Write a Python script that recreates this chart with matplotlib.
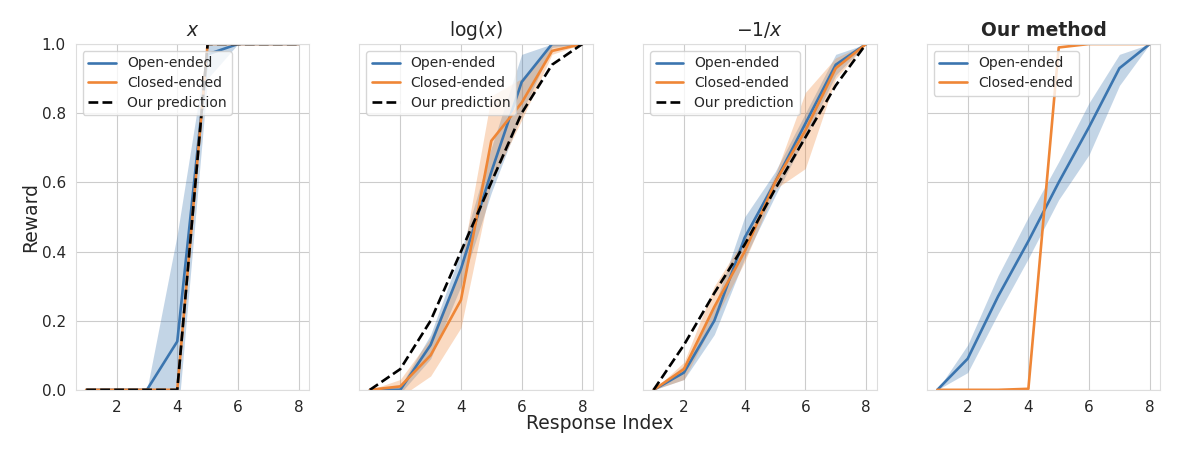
import numpy as np
import matplotlib
matplotlib.use("Agg")
import matplotlib.pyplot as plt
import seaborn as sns

sns.set_style("whitegrid")
plt.rcParams['font.family'] = ['DejaVu Sans']

idx = [1, 2, 3, 4, 5, 6, 7, 8]
titles = ["$x$", r"$\log(x)$", r"$-1/x$", "Our method"]

# panel 1: x
open_x = [0, 0, 0, 0.14, 0.97, 1.0, 1.0, 1.0]
open_x_lo = [0, 0, 0, -0.1, 0.9, 1.0, 1.0, 1.0]
open_x_hi = [0, 0, 0, 0.45, 1.0, 1.0, 1.0, 1.0]
closed_x = [0, 0, 0, 0, 1.0, 1.0, 1.0, 1.0]
pred_x = [0, 0, 0, 0, 1.0, 1.0, 1.0, 1.0]

# panel 2: log(x)
open_log = [0, 0.0, 0.13, 0.35, 0.63, 0.89, 1.0, 1.0]
open_log_lo = [0, -0.01, 0.09, 0.3, 0.57, 0.8, 0.99, 1.0]
open_log_hi = [0, 0.01, 0.16, 0.4, 0.7, 0.97, 1.0, 1.0]
closed_log = [0, 0.01, 0.1, 0.26, 0.72, 0.83, 0.98, 1.0]
closed_log_lo = [0, -0.02, 0.04, 0.18, 0.6, 0.78, 0.97, 1.0]
closed_log_hi = [0, 0.03, 0.15, 0.36, 0.85, 0.9, 1.0, 1.0]
pred_log = [0, 0.06, 0.2, 0.4, 0.6, 0.8, 0.94, 1.0]

# panel 3: -1/x
open_inv = [0, 0.05, 0.2, 0.44, 0.6, 0.77, 0.94, 1.0]
open_inv_lo = [0, 0.03, 0.16, 0.38, 0.56, 0.73, 0.91, 1.0]
open_inv_hi = [0, 0.07, 0.24, 0.5, 0.63, 0.8, 0.97, 1.0]
closed_inv = [0, 0.06, 0.24, 0.4, 0.6, 0.75, 0.93, 1.0]
closed_inv_lo = [0, 0.03, 0.2, 0.37, 0.58, 0.64, 0.9, 1.0]
closed_inv_hi = [0, 0.08, 0.3, 0.44, 0.62, 0.86, 0.96, 1.0]
pred_inv = [0, 0.13, 0.28, 0.42, 0.58, 0.73, 0.88, 1.0]

# panel 4: our method
open_ours = [0, 0.09, 0.27, 0.43, 0.6, 0.76, 0.93, 1.0]
open_ours_lo = [0, 0.05, 0.22, 0.38, 0.55, 0.68, 0.88, 1.0]
open_ours_hi = [0, 0.13, 0.33, 0.5, 0.66, 0.83, 0.97, 1.0]
closed_ours = [0, 0, 0, 0.003, 0.99, 1.0, 1.0, 1.0]

blue = "#3b75af"
orange = "#ef8636"

panels = [
    (open_x, open_x_lo, open_x_hi, closed_x, None, None, pred_x),
    (open_log, open_log_lo, open_log_hi, closed_log, closed_log_lo, closed_log_hi, pred_log),
    (open_inv, open_inv_lo, open_inv_hi, closed_inv, closed_inv_lo, closed_inv_hi, pred_inv),
    (open_ours, open_ours_lo, open_ours_hi, closed_ours, None, None, None),
]

fig, axes = plt.subplots(1, 4, figsize=(12, 4.63), dpi=100, sharey=True)
fig.subplots_adjust(left=0.063, right=0.967, top=0.905, bottom=0.158, wspace=0.214)

for i, ax in enumerate(axes):
    o, olo, ohi, c, clo, chi, p = panels[i]
    ax.fill_between(idx, olo, ohi, color=blue, alpha=0.3, lw=0)
    ax.plot(idx, o, color=blue, lw=1.9, label="Open-ended")
    if clo is not None:
        ax.fill_between(idx, clo, chi, color=orange, alpha=0.3, lw=0)
    ax.plot(idx, c, color=orange, lw=1.9, label="Closed-ended")
    if p is not None:
        ax.plot(idx, p, color="black", lw=1.9, ls="--", label="Our prediction")
    ax.set_ylim(0, 1)
    ax.set_xticks([2, 4, 6, 8])
    ax.tick_params(labelsize=11)
    if i == 3:
        ax.set_title(titles[i], fontsize=13.5, fontweight="bold")
    else:
        ax.set_title(titles[i], fontsize=13.5)
    ax.legend(loc="upper left", fontsize=10, labelspacing=0.4)
    for s in ax.spines.values():
        s.set_color("#dddddd")

axes[0].set_ylabel("Reward", fontsize=13.5, labelpad=1)
fig.supxlabel("Response Index", fontsize=13.5, y=0.065)

fig.savefig("out.png", dpi=100)
